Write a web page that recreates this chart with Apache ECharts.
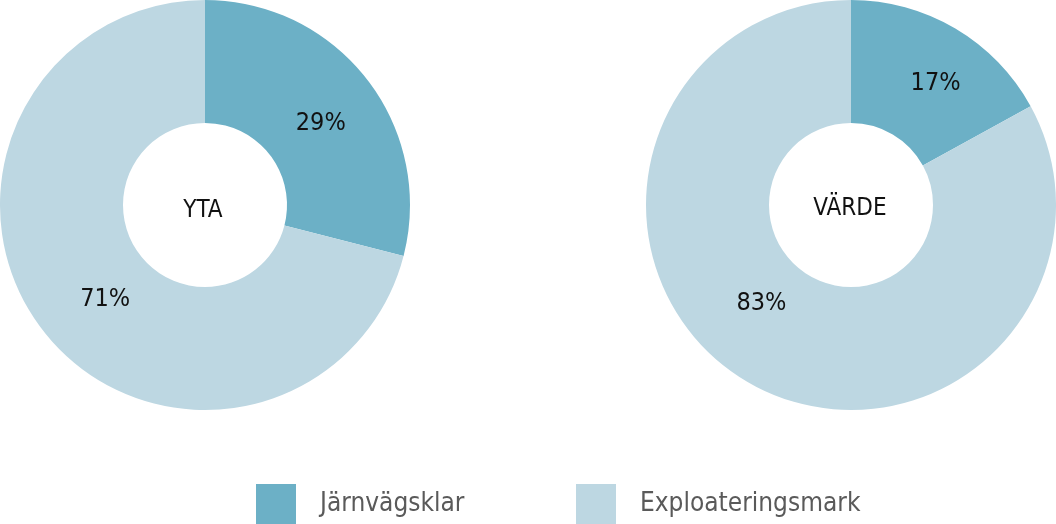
<!DOCTYPE html>
<html><head><meta charset="utf-8">
<script src="https://cdn.jsdelivr.net/npm/echarts@6/dist/echarts.min.js"></script>
<style>html,body{margin:0;padding:0;background:#fff}#c{width:1056px;height:524px}</style>
</head><body><div id="c"></div>
<script>
const categories = ['Järnvägsklar', 'Exploateringsmark'];
const ytaValues = [29, 71];
const vardeValues = [17, 83];
const chartTitles = ['YTA', 'VÄRDE'];
const colors = ['#6cb0c6', '#bdd7e2'];
const FONT = '"DejaVu Sans Condensed","Liberation Sans Narrow","Roboto",sans-serif';
// fine label nudges (seriesIndex -> dataIndex -> [dx, dy])
const labelNudge = [[[0, 8], [16, 5]], [[10, 5], [-15, -28]]];

const chart = echarts.init(document.getElementById('c'));
function pie(values, cx, si) {
  return {
    type: 'pie', center: [cx, 205], radius: [82, 205], startAngle: 90, clockwise: true,
    silent: true, animation: false,
    label: { show: true, position: 'inside', formatter: '{c}%', color: '#111', fontSize: 25, fontFamily: FONT },
    labelLine: { show: false },
    labelLayout: function (p) { const n = labelNudge[si][p.dataIndex]; return { dx: n[0], dy: n[1] }; },
    itemStyle: { borderWidth: 0 },
    data: categories.map((n, i) => ({ name: n, value: values[i], itemStyle: { color: colors[i] } }))
  };
}
const titleStyle = { fontSize: 24, fontWeight: 'normal', color: '#111', fontFamily: FONT };
chart.setOption({
  animation: false,
  title: [
    { text: chartTitles[0], left: 198, top: 206, textAlign: 'center', textVerticalAlign: 'middle', textStyle: titleStyle },
    { text: chartTitles[1], left: 845, top: 204, textAlign: 'center', textVerticalAlign: 'middle', textStyle: titleStyle }
  ],
  legend: [
    { data: [categories[0]], left: 256, top: 484, itemWidth: 40, itemHeight: 40, icon: 'rect', padding: 0, selectedMode: false,
      textStyle: { fontSize: 26, color: '#5a5a5a', fontFamily: FONT, padding: [0, 0, 0, 19] } },
    { data: [categories[1]], left: 576, top: 484, itemWidth: 40, itemHeight: 40, icon: 'rect', padding: 0, selectedMode: false,
      textStyle: { fontSize: 26, color: '#5a5a5a', fontFamily: FONT, padding: [0, 0, 0, 19] } }
  ],
  series: [pie(ytaValues, 205, 0), pie(vardeValues, 851, 1)]
});
</script></body></html>
